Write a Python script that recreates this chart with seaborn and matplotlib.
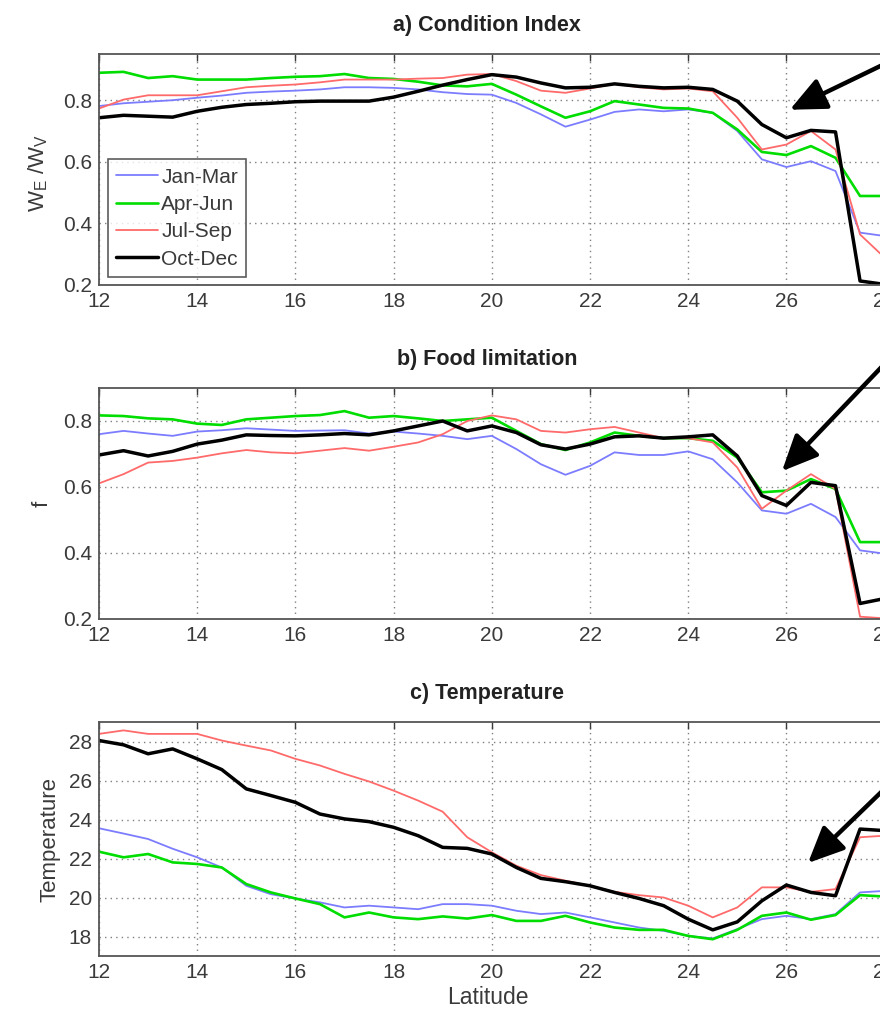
import numpy as np
import pandas as pd
import matplotlib
matplotlib.use("Agg")
import matplotlib.pyplot as plt
import seaborn as sns

sns.set_style("white")
plt.rcParams['font.family'] = ['Liberation Sans', 'DejaVu Sans']
plt.rcParams['mathtext.fontset'] = 'custom'
plt.rcParams['mathtext.rm'] = 'Liberation Sans'
plt.rcParams['mathtext.it'] = 'Liberation Sans'

lat = [12, 12.5, 13, 13.5, 14, 14.5, 15, 15.5, 16, 16.5, 17, 17.5, 18, 18.5, 19, 19.5,
       20, 20.5, 21, 21.5, 22, 22.5, 23, 23.5, 24, 24.5, 25, 25.5, 26, 26.5, 27, 27.5, 28]

seasons = ["Jan-Mar", "Apr-Jun", "Jul-Sep", "Oct-Dec"]

cond_jan = [.781, .79, .795, .80, .808, .815, .824, .828, .831, .835, .842, .842, .84, .835, .826, .82,
            .818, .791, .754, .714, .737, .762, .77, .764, .77, .759, .70, .608, .583, .602, .57, .37, .359]
cond_apr = [.889, .892, .872, .878, .867, .867, .867, .872, .876, .878, .885, .872, .869, .86, .848, .845,
            .853, .818, .78, .743, .764, .797, .786, .775, .773, .759, .705, .632, .622, .651, .613, .489, .489]
cond_jul = [.773, .802, .816, .816, .816, .829, .842, .847, .851, .858, .867, .867, .867, .870, .872, .883,
            .885, .862, .831, .824, .838, .853, .842, .835, .838, .829, .743, .64, .656, .70, .64, .364, .289]
cond_oct = [.743, .751, .748, .745, .764, .777, .786, .79, .795, .797, .797, .797, .81, .829, .849, .867,
            .883, .875, .856, .84, .842, .853, .845, .84, .842, .835, .797, .721, .678, .702, .697, .213, .202]

food_jan = [.76, .77, .762, .755, .768, .772, .778, .774, .77, .771, .772, .762, .768, .762, .755, .745,
            .755, .715, .669, .637, .664, .705, .697, .697, .708, .684, .614, .529, .519, .549, .509, .408, .398]
food_apr = [.817, .815, .808, .805, .792, .788, .805, .81, .815, .818, .83, .81, .815, .808, .80, .805,
            .81, .77, .73, .712, .735, .765, .755, .748, .748, .74, .689, .584, .589, .624, .594, .433, .433]
food_jul = [.611, .639, .674, .679, .689, .702, .712, .705, .702, .71, .718, .71, .722, .735, .76, .80,
            .817, .805, .77, .765, .775, .782, .765, .748, .748, .735, .659, .534, .589, .639, .594, .207, .202]
food_oct = [.697, .71, .694, .708, .73, .742, .758, .756, .755, .758, .762, .758, .77, .785, .80, .77,
            .785, .765, .728, .715, .73, .752, .755, .748, .752, .758, .694, .574, .544, .614, .604, .247, .262]

temp_jan = [23.55, 23.28, 23.0, 22.5, 22.06, 21.54, 20.6, 20.17, 19.95, 19.75, 19.49, 19.58, 19.49, 19.4, 19.66, 19.66,
            19.58, 19.32, 19.15, 19.23, 18.98, 18.72, 18.46, 18.29, 18.03, 17.9, 18.38, 18.89, 19.06, 18.89, 19.15, 20.26, 20.34]
temp_apr = [22.35, 22.06, 22.23, 21.8, 21.72, 21.54, 20.69, 20.26, 19.95, 19.66, 18.98, 19.23, 18.98, 18.89, 19.03, 18.92,
            19.1, 18.8, 18.8, 19.06, 18.72, 18.46, 18.34, 18.34, 18.03, 17.86, 18.34, 19.06, 19.23, 18.86, 19.1, 20.12, 20.05]
temp_jul = [28.39, 28.57, 28.39, 28.39, 28.39, 28.05, 27.79, 27.54, 27.11, 26.77, 26.34, 25.95, 25.48, 24.97, 24.4, 23.09,
            22.32, 21.63, 21.15, 20.86, 20.6, 20.29, 20.12, 20.0, 19.58, 18.98, 19.49, 20.52, 20.52, 20.29, 20.43, 23.09, 23.17]
temp_oct = [28.05, 27.83, 27.37, 27.62, 27.11, 26.56, 25.57, 25.23, 24.88, 24.28, 24.03, 23.89, 23.6, 23.17, 22.57, 22.52,
            22.23, 21.54, 20.98, 20.81, 20.6, 20.26, 19.95, 19.58, 18.89, 18.34, 18.75, 19.83, 20.64, 20.26, 20.09, 23.51, 23.43]

titles = ["a) Condition Index", "b) Food limitation", "c) Temperature"]
ylabels = [r"$\mathregular{W_E\ /W_V}$", "f", "Temperature"]
xticks = [12, 14, 16, 18, 20, 22, 24, 26, 28]
yticks_list = [[0.2, 0.4, 0.6, 0.8], [0.2, 0.4, 0.6, 0.8], [18, 20, 22, 24, 26, 28]]
ylims = [(0.2, 0.95), (0.2, 0.9), (17, 29)]

colors = {"Jan-Mar": "#7c7cff", "Apr-Jun": "#00dd00", "Jul-Sep": "#ff6a6a", "Oct-Dec": "#000000"}
widths = {"Jan-Mar": 1.3, "Apr-Jun": 1.9, "Jul-Sep": 1.3, "Oct-Dec": 2.5}

panels = [
    [cond_jan, cond_apr, cond_jul, cond_oct],
    [food_jan, food_apr, food_jul, food_oct],
    [temp_jan, temp_apr, temp_jul, temp_oct],
]

W, H = 880, 1009
fig = plt.figure(figsize=(W / 100, H / 100), dpi=100)

px_per_deg = 49.1
left = 99
right = left + 18 * px_per_deg
boxes = [(54, 285), (388, 619), (722, 956)]
axes = []
for (top, bot) in boxes:
    ax = fig.add_axes([left / W, 1 - bot / H, (right - left) / W, (bot - top) / H])
    axes.append(ax)

grid_kw = dict(color="#808080", linestyle=(0, (1, 3)), linewidth=1.0)
for i, ax in enumerate(axes):
    for s, vals in zip(seasons, panels[i]):
        df = pd.DataFrame({"Latitude": lat, "value": vals})
        sns.lineplot(data=df, x="Latitude", y="value", ax=ax, color=colors[s],
                     linewidth=widths[s], label=s if i == 0 else None, legend=False)
    ax.set_xlim(12, 30)
    ax.set_ylim(*ylims[i])
    ax.set_xticks(xticks)
    ax.set_yticks(yticks_list[i])
    if i < 2:
        ax.set_yticklabels([f"{t:.1f}" for t in yticks_list[i]])
    ax.grid(True, **grid_kw)
    ax.tick_params(direction="in", top=True, right=True, length=5, width=1.0,
                   labelsize=15, colors="#3a3a3a", pad=5)
    for sp in ax.spines.values():
        sp.set_color("#555555")
        sp.set_linewidth(1.3)
    ax.set_xlabel("")
    ax.set_ylabel(ylabels[i], fontsize=16, color="#3a3a3a", va="center")

ylabel_x = [38, 42, 50]
ylabel_frac = [0.5 - (173 - 169.5) / 231, 0.5, 0.5]
for i, ax in enumerate(axes):
    ax.yaxis.set_label_coords((ylabel_x[i] - left) / (right - left), ylabel_frac[i])

title_y = [25, 360, 693]
for i in range(3):
    fig.text(487 / W, 1 - title_y[i] / H, titles[i], ha="center", va="center",
             fontsize=15.5, fontweight="bold", color="#222222")

axes[2].set_xlabel("Latitude", fontsize=16.5, color="#3a3a3a", va="center")
axes[2].xaxis.set_label_coords((488 - left) / (right - left), (956 - 997) / (956 - 722))

leg = axes[0].legend(loc="lower left", bbox_to_anchor=((108 - left) / (right - left), (285 - 277) / (285 - 54)),
                     borderaxespad=0, frameon=True, fancybox=False, edgecolor="#333333",
                     fontsize=15, handlelength=2.0, handletextpad=0.15, labelspacing=0.4,
                     borderpad=0.4)
leg.get_frame().set_linewidth(1.2)
for t in leg.get_texts():
    t.set_color("#3a3a3a")

arrow_kw = dict(arrowstyle="-|>,head_length=1.1,head_width=0.5", color="black", lw=3.2,
                mutation_scale=20, shrinkA=0, shrinkB=0)
arrows = [((26.07, 0.769), (29.2, 1.01)), ((25.91, 0.648), (29.2, 1.16)), ((26.44, 21.77), (29.2, 28.5))]
for ax, (tip, tail) in zip(axes, arrows):
    ax.annotate("", xy=tip, xytext=tail, arrowprops=arrow_kw, annotation_clip=False)

fig.savefig("out.png", dpi=100)
